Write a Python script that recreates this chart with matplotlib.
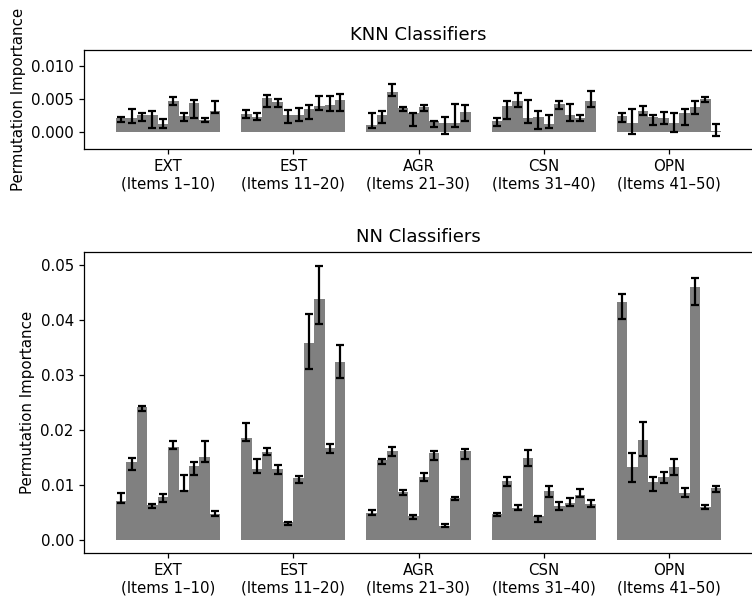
import numpy as np
import matplotlib
matplotlib.use("Agg")
import matplotlib.pyplot as plt

# Trait groups and item ranges (10 items per trait)
traits = ["EXT", "EST", "AGR", "CSN", "OPN"]
item_ranges = ["1\u201310", "11\u201320", "21\u201330", "31\u201340", "41\u201350"]

# KNN classifiers: mean permutation importance per item and whisker ends
knn_mean = [
    0.0022, 0.0022, 0.0026, 0.0026, 0.0013, 0.0047, 0.0025, 0.0044, 0.0019, 0.0033,
    0.0028, 0.0024, 0.0052, 0.0046, 0.0027, 0.0027, 0.0035, 0.0040, 0.0041, 0.0049,
    0.0011, 0.0026, 0.0061, 0.0037, 0.0029, 0.0039, 0.0017, 0.0014, 0.0014, 0.0031,
    0.0018, 0.0040, 0.0048, 0.0022, 0.0024, 0.0013, 0.0043, 0.0026, 0.0022, 0.0047,
    0.0025, 0.0014, 0.0032, 0.0024, 0.0022, 0.0014, 0.0029, 0.0038, 0.0050, 0.0003,
]
knn_lo = [
    0.0016, 0.0014, 0.0017, 0.0007, 0.0007, 0.0042, 0.0018, 0.0022, 0.0016, 0.0029,
    0.0022, 0.0019, 0.0039, 0.0038, 0.0014, 0.0017, 0.0021, 0.0034, 0.0032, 0.0032,
    0.0007, 0.0014, 0.0055, 0.0032, 0.0010, 0.0032, 0.0008, -0.0002, 0.0009, 0.0017,
    0.0010, 0.0020, 0.0038, 0.0015, 0.0005, 0.0007, 0.0035, 0.0017, 0.0018, 0.0039,
    0.0016, -0.0003, 0.0026, 0.0011, 0.0013, 0.0000, 0.0012, 0.0028, 0.0046, -0.0006,
]
knn_hi = [
    0.0023, 0.0036, 0.0029, 0.0032, 0.0021, 0.0054, 0.0030, 0.0049, 0.0022, 0.0047,
    0.0034, 0.0029, 0.0057, 0.0050, 0.0034, 0.0037, 0.0041, 0.0055, 0.0055, 0.0058,
    0.0029, 0.0033, 0.0073, 0.0039, 0.0030, 0.0042, 0.0018, 0.0024, 0.0043, 0.0041,
    0.0022, 0.0048, 0.0060, 0.0049, 0.0033, 0.0027, 0.0048, 0.0043, 0.0027, 0.0063,
    0.0030, 0.0035, 0.0040, 0.0027, 0.0031, 0.0030, 0.0035, 0.0048, 0.0054, 0.0013,
]

# NN classifiers: mean permutation importance per item and whisker ends
nn_mean = [
    0.0071, 0.0141, 0.0241, 0.0064, 0.0078, 0.0169, 0.0091, 0.0135, 0.0151, 0.0048,
    0.0185, 0.0129, 0.0160, 0.0129, 0.0032, 0.0112, 0.0358, 0.0438, 0.0167, 0.0324,
    0.0050, 0.0145, 0.0162, 0.0087, 0.0043, 0.0115, 0.0159, 0.0026, 0.0076, 0.0162,
    0.0047, 0.0107, 0.0058, 0.0149, 0.0043, 0.0089, 0.0062, 0.0068, 0.0081, 0.0065,
    0.0432, 0.0133, 0.0182, 0.0105, 0.0114, 0.0133, 0.0085, 0.0460, 0.0060, 0.0095,
]
nn_lo = [
    0.0067, 0.0127, 0.0235, 0.0059, 0.0069, 0.0165, 0.0090, 0.0119, 0.0141, 0.0044,
    0.0180, 0.0122, 0.0155, 0.0120, 0.0027, 0.0104, 0.0310, 0.0393, 0.0159, 0.0295,
    0.0045, 0.0138, 0.0153, 0.0082, 0.0039, 0.0107, 0.0145, 0.0023, 0.0073, 0.0148,
    0.0044, 0.0099, 0.0055, 0.0135, 0.0032, 0.0079, 0.0055, 0.0062, 0.0078, 0.0060,
    0.0402, 0.0106, 0.0152, 0.0089, 0.0104, 0.0118, 0.0079, 0.0427, 0.0056, 0.0087,
]
nn_hi = [
    0.0085, 0.0150, 0.0244, 0.0065, 0.0083, 0.0180, 0.0119, 0.0141, 0.0180, 0.0052,
    0.0213, 0.0148, 0.0167, 0.0136, 0.0033, 0.0116, 0.0411, 0.0498, 0.0175, 0.0355,
    0.0055, 0.0148, 0.0170, 0.0091, 0.0045, 0.0121, 0.0162, 0.0029, 0.0078, 0.0165,
    0.0050, 0.0115, 0.0064, 0.0164, 0.0044, 0.0098, 0.0070, 0.0076, 0.0093, 0.0073,
    0.0448, 0.0159, 0.0215, 0.0115, 0.0123, 0.0147, 0.0094, 0.0476, 0.0064, 0.0099,
]

plt.rcParams.update({
    "font.size": 10.8,
    "axes.titlesize": 13,
    "axes.labelsize": 10.8,
    "xtick.labelsize": 10.8,
    "ytick.labelsize": 10.8,
    "axes.linewidth": 0.9,
    "xtick.major.size": 3.8,
    "ytick.major.size": 3.8,
    "xtick.major.width": 0.9,
    "ytick.major.width": 0.9,
})

n_items = 10
group_step = 12  # 10 items plus a gap of two bar widths
positions = np.array([g * group_step + i for g in range(len(traits)) for i in range(n_items)])
tick_pos = [g * group_step + (n_items - 1) / 2 for g in range(len(traits))]
tick_labels = [f"{t}\n(Items {r})" for t, r in zip(traits, item_ranges)]

W, H = 752, 598
fig = plt.figure(figsize=(W / 100, H / 100), dpi=100)

def px_axes(left, top, right, bottom):
    return fig.add_axes([left / W, 1 - bottom / H, (right - left) / W, (bottom - top) / H])

ax_knn = px_axes(84, 50, 753, 149)
ax_nn = px_axes(84, 252, 753, 553)


def draw_panel(ax, mean, lo, hi, title):
    mean = np.asarray(mean)
    lo = np.asarray(lo)
    hi = np.asarray(hi)
    ax.bar(positions, mean, width=1.0, color="gray")
    centre = (lo + hi) / 2
    half = (hi - lo) / 2
    ax.errorbar(positions, centre, yerr=half, fmt="none", ecolor="black",
                elinewidth=1.6, capsize=3, capthick=1.6)
    ax.set_xticks(tick_pos)
    ax.set_xticklabels(tick_labels)
    ax.set_xlim(-3.56, 60.56)
    ax.set_ylabel("Permutation Importance")
    ax.set_title(title, pad=7)


draw_panel(ax_knn, knn_mean, knn_lo, knn_hi, "KNN Classifiers")
ax_knn.set_ylim(-0.0025, 0.0125)
ax_knn.set_yticks([0.0, 0.005, 0.010])
ax_knn.set_yticklabels(["0.000", "0.005", "0.010"])

draw_panel(ax_nn, nn_mean, nn_lo, nn_hi, "NN Classifiers")
ax_nn.set_ylim(-0.00236, 0.05236)
ax_nn.set_yticks([0.0, 0.01, 0.02, 0.03, 0.04, 0.05])
ax_nn.set_yticklabels(["0.00", "0.01", "0.02", "0.03", "0.04", "0.05"])

fig.savefig("out.png", dpi=100)
